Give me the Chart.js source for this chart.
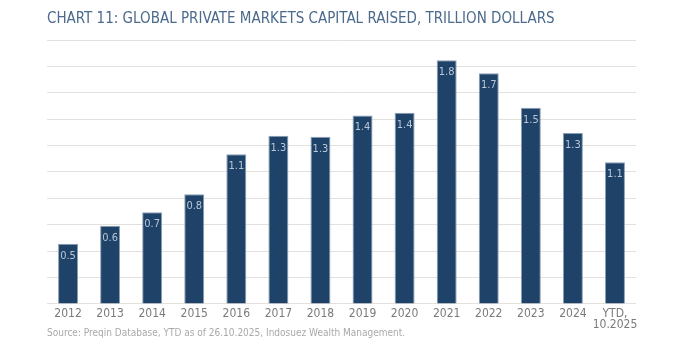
<!DOCTYPE html>
<html>
<head>
<meta charset="utf-8">
<script src="https://cdn.jsdelivr.net/npm/chart.js@4.4.1/dist/chart.umd.min.js"></script>
<style>
  html, body { margin: 0; padding: 0; background: #ffffff; }
  #wrap { width: 676px; height: 355px; position: relative; }
</style>
</head>
<body>
<div id="wrap"><canvas id="c" width="676" height="355"></canvas></div>
<script>
const categories = ["2012","2013","2014","2015","2016","2017","2018","2019","2020","2021","2022","2023","2024",["YTD,","10.2025"]];
const capitalRaised = [0.456,0.593,0.695,0.832,1.135,1.275,1.267,1.427,1.448,1.847,1.749,1.486,1.295,1.074];
const yTicks = [0,0.2,0.4,0.6,0.8,1.0,1.2,1.4,1.6,1.8,2.0];

const titleText = "CHART 11: GLOBAL PRIVATE MARKETS CAPITAL RAISED, TRILLION DOLLARS";
const sourceText = "Source: Preqin Database, YTD as of 26.10.2025, Indosuez Wealth Management.";

const FONT = "'Liberation Sans Narrow', 'DejaVu Sans Condensed', 'Roboto', sans-serif";

const valueLabels = {
  id: 'valueLabels',
  afterDatasetsDraw(chart) {
    const ctx = chart.ctx;
    const meta = chart.getDatasetMeta(0);
    ctx.save();
    ctx.font = "11px " + FONT;
    ctx.fillStyle = "#b9c6d6";
    ctx.textAlign = "center";
    ctx.textBaseline = "middle";
    meta.data.forEach((bar, i) => {
      const v = chart.data.datasets[0].data[i];
      ctx.fillText(v.toFixed(1), bar.x, bar.y + 12);
    });
    ctx.restore();
  }
};

new Chart(document.getElementById('c'), {
  type: 'bar',
  data: {
    labels: categories,
    datasets: [{
      data: capitalRaised,
      backgroundColor: '#1f4269',
      borderColor: '#8a9fb7',
      borderWidth: 1,
      barPercentage: 0.475,
      categoryPercentage: 1.0
    }]
  },
  options: {
    responsive: false,
    animation: false,
    devicePixelRatio: 1,
    layout: { padding: { left: 47, right: 40, top: 0, bottom: 16 } },
    plugins: {
      legend: { display: false },
      tooltip: { enabled: false },
      title: {
        display: true,
        text: titleText,
        align: 'start',
        color: '#4b6a8d',
        font: { family: FONT, size: 15, weight: 'normal', lineHeight: 1.2 },
        padding: { top: 10, bottom: 12 }
      },
      subtitle: {
        display: true,
        text: sourceText,
        position: 'bottom',
        align: 'start',
        color: '#a9a9a9',
        font: { family: FONT, size: 10, weight: 'normal', lineHeight: 1.2 },
        padding: { top: -8, bottom: 0 }
      }
    },
    scales: {
      x: {
        offset: true,
        grid: { display: false, drawTicks: false },
        border: { display: false },
        ticks: {
          color: '#7a7a7a',
          padding: 4,
          maxRotation: 0,
          autoSkip: false,
          font: { family: FONT, size: 12, lineHeight: 0.96 }
        }
      },
      y: {
        min: 0,
        max: 2.0,
        afterBuildTicks(scale) { scale.ticks = yTicks.map(v => ({ value: v })); },
        grid: { color: '#e4e1dd', lineWidth: 1, drawTicks: false },
        border: { display: false },
        ticks: { display: false }
      }
    }
  },
  plugins: [valueLabels]
});
</script>
</body>
</html>
